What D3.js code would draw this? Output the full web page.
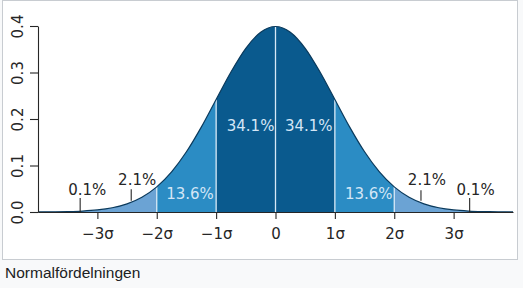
<!DOCTYPE html>
<html>
<head>
<meta charset="utf-8">
<script src="https://cdn.jsdelivr.net/npm/d3@7"></script>
<style>
  html, body { margin: 0; padding: 0; background: #f8f9fa; }
  svg { display: block; }
</style>
</head>
<body>
<div id="chart"></div>
<script>
// Density, at steps of 0.25 sigma
const sigmaSteps = d3.range(-16, 17).map(i => i / 4);
const density = [
  0.0001, 0.0004, 0.0009, 0.0020, 0.0044, 0.0091, 0.0175, 0.0317,
  0.0540, 0.0863, 0.1295, 0.1826, 0.2420, 0.3011, 0.3521, 0.3867,
  0.3989,
  0.3867, 0.3521, 0.3011, 0.2420, 0.1826, 0.1295, 0.0863, 0.0540,
  0.0317, 0.0175, 0.0091, 0.0044, 0.0020, 0.0009, 0.0004, 0.0001
];

// Shaded bands (in sigma)
const bandEdges = [[-4, -2], [-2, -1], [-1, 1], [1, 2], [2, 4]];
const bandColors = ["#6ba3d4", "#2b8cc4", "#0a5a8e", "#2b8cc4", "#6ba3d4"];
const dividers = [-2, -1, 0, 1, 2];

const xTicks = [-3, -2, -1, 0, 1, 2, 3];
const xTickLabels = ["\u22123\u03c3", "\u22122\u03c3", "\u22121\u03c3", "0", "1\u03c3", "2\u03c3", "3\u03c3"];
const yTicks = [0.0, 0.1, 0.2, 0.3, 0.4];

// Percentage labels
const innerLabels = ["13.6%", "34.1%", "34.1%", "13.6%"];
const innerLabelX = [-1.44, -0.42, 0.56, 1.57];
const innerLabelY = [0.028, 0.174, 0.174, 0.028];
const outerLabels = ["0.1%", "2.1%", "2.1%", "0.1%"];
const outerLabelX = [-3.17, -2.33, 2.55, 3.37];
const outerLabelY = [0.037, 0.058, 0.058, 0.037];
const markerX = [-3.29, -2.43, 2.45, 3.27];
const markerTop = [0.030, 0.049, 0.047, 0.030];
const markerBottom = [0.0, 0.024, 0.024, 0.0];

const caption = "Normalf\u00f6rdelningen";

const W = 523, H = 288;
const svg = d3.select("#chart").append("svg")
  .attr("width", W).attr("height", H);

// frame
svg.append("rect").attr("x", 0).attr("y", 0).attr("width", W).attr("height", H)
  .attr("fill", "#f8f9fa");
svg.append("rect").attr("x", 2.5).attr("y", 0.5).attr("width", 515).attr("height", 259)
  .attr("fill", "#ffffff").attr("stroke", "#c8ccd1");

const x = d3.scaleLinear().domain([-4, 4]).range([38, 513]);
const y = d3.scaleLinear().domain([0, 0.4]).range([212, 26]);

const pts = sigmaSteps.map((s, i) => ({ s: s, d: density[i] }));

const area = d3.area()
  .x(p => x(p.s)).y0(y(0)).y1(p => y(p.d))
  .curve(d3.curveMonotoneX);

const line = d3.line()
  .x(p => x(p.s)).y(p => y(p.d))
  .curve(d3.curveMonotoneX);

const g = svg.append("g");

bandEdges.forEach((e, i) => {
  const sub = pts.filter(p => p.s >= e[0] - 1e-9 && p.s <= e[1] + 1e-9);
  g.append("path").datum(sub)
    .attr("d", area)
    .attr("fill", bandColors[i]);
});

dividers.forEach(s => {
  const d = density[sigmaSteps.indexOf(s)];
  g.append("line")
    .attr("x1", x(s)).attr("x2", x(s))
    .attr("y1", y(0)).attr("y2", y(d))
    .attr("stroke", "#d6e8f6").attr("stroke-width", 1.3);
});

g.append("path").datum(pts)
  .attr("d", line)
  .attr("fill", "none")
  .attr("stroke", "#0b3a5c")
  .attr("stroke-width", 1.2);

// axes
const font = "'DejaVu Sans', sans-serif";
const xAxis = svg.append("g")
  .attr("transform", `translate(0,${y(0)})`)
  .call(d3.axisBottom(x).tickValues(xTicks)
    .tickFormat((d, i) => xTickLabels[i])
    .tickSize(7).tickSizeOuter(0).tickPadding(9));
xAxis.selectAll("text")
  .attr("font-family", font).attr("font-size", 15).attr("fill", "#262626");

const yAxis = svg.append("g")
  .attr("transform", `translate(${x(-4)},0)`)
  .call(d3.axisLeft(y).tickValues(yTicks)
    .tickFormat(d3.format(".1f"))
    .tickSize(8).tickSizeOuter(0));
yAxis.selectAll("text")
  .attr("font-family", font).attr("font-size", 15).attr("fill", "#262626")
  .attr("x", null).attr("dy", null)
  .attr("text-anchor", "middle")
  .attr("transform", "translate(-15,0) rotate(-90)");

svg.selectAll(".domain, .tick line").attr("stroke", "#262626").attr("stroke-width", 1.1);

// percentage labels
innerLabels.forEach((t, i) => {
  svg.append("text")
    .attr("x", x(innerLabelX[i])).attr("y", y(innerLabelY[i]))
    .attr("text-anchor", "middle")
    .attr("font-family", font).attr("font-size", 15)
    .attr("fill", "#d4e6f6")
    .text(t);
});

outerLabels.forEach((t, i) => {
  svg.append("text")
    .attr("x", x(outerLabelX[i])).attr("y", y(outerLabelY[i]))
    .attr("text-anchor", "middle")
    .attr("font-family", font).attr("font-size", 15)
    .attr("fill", "#262626")
    .text(t);
  svg.append("line")
    .attr("x1", x(markerX[i])).attr("x2", x(markerX[i]))
    .attr("y1", y(markerTop[i])).attr("y2", y(markerBottom[i]))
    .attr("stroke", "#262626").attr("stroke-width", 1.1);
});

// caption
svg.append("text")
  .attr("x", 5).attr("y", 278)
  .attr("font-family", "'Liberation Sans', Arial, sans-serif")
  .attr("font-size", 15.5)
  .attr("fill", "#202122")
  .text(caption);
</script>
</body>
</html>
